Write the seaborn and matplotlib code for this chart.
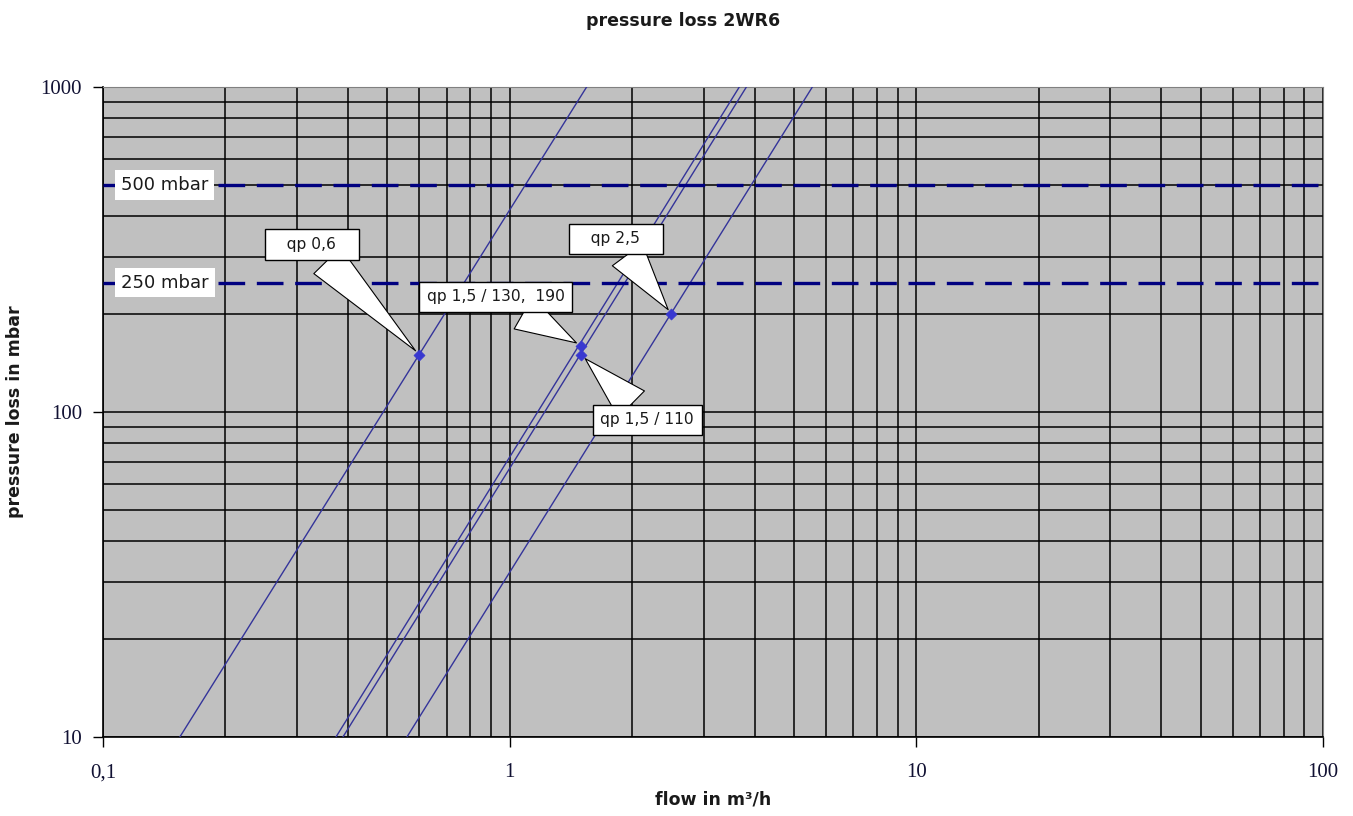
import numpy as np
import pandas as pd
import seaborn as sns
import matplotlib
matplotlib.use("Agg")
import matplotlib.pyplot as plt
from matplotlib.ticker import LogLocator, FixedLocator, FixedFormatter, NullFormatter

# characteristic lines, read where they cross the bottom (10 mbar) and top (1000 mbar) edge
line_names = ["qp 0,6", "qp 1,5 / 130, 190", "qp 1,5 / 110", "qp 2,5"]
line_flow_low = [0.1545, 0.374, 0.389, 0.559]
line_flow_high = [1.546, 3.67, 3.82, 5.55]
line_press = [10, 1000]

# nominal points
point_flow = [0.6, 1.5, 1.5, 2.5]
point_press = [150, 160, 150, 200]

# callout labels: text, anchor point index, box centre (flow, pressure)
callout_text = ["qp 0,6", "qp 1,5 / 130,  190", "qp 1,5 / 110", "qp 2,5"]
callout_point = [0, 1, 2, 3]
callout_flow = [0.326, 0.924, 2.18, 1.822]
callout_press = [327, 226, 94.5, 341]
callout_hpad = ["   ", "", "", "   "]

limit_press = [500, 250]
limit_text = ["500 mbar", "250 mbar"]

x_ticks = [0.1, 1, 10, 100]
x_ticklabels = ["0,1", "1", "10", "100"]
y_ticks = [10, 100, 1000]
y_ticklabels = ["10", "100", "1000"]

sns.set_style("white")
plt.rcParams["font.family"] = ["DejaVu Sans"]

fig = plt.figure(figsize=(13.53, 8.16), dpi=100)
ax = fig.add_axes([103 / 1353, 1 - 737 / 816, 1220 / 1353, 650 / 816])
ax.set_facecolor("#c0c0c0")

line_color = "#34349a"
for i, name in enumerate(line_names):
    df = pd.DataFrame({"flow": [line_flow_low[i], line_flow_high[i]], "press": line_press})
    sns.lineplot(data=df, x="flow", y="press", ax=ax, color=line_color, lw=1, zorder=3)

for p, t in zip(limit_press, limit_text):
    ax.axhline(p, color="#000080", lw=2.4, dashes=(8, 3.5), zorder=3)
    ax.text(0.142, p, t, ha="center", va="center", fontsize=13, color="#1a1a1a",
            bbox=dict(boxstyle="square,pad=0.32", fc="white", ec="none"), zorder=5)

pts = pd.DataFrame({"flow": point_flow, "press": point_press})
sns.scatterplot(data=pts, x="flow", y="press", ax=ax, marker="D", s=32,
                color="#3838d0", edgecolor="#3838d0", zorder=4)

for t, pi, cx, cy, hp in zip(callout_text, callout_point, callout_flow, callout_press, callout_hpad):
    ax.annotate(hp + t + hp, xy=(point_flow[pi], point_press[pi]), xytext=(cx, cy),
                ha="center", va="center", fontsize=11.2, color="#1a1a1a", zorder=6,
                bbox=dict(boxstyle="square,pad=0.5", fc="white", ec="black", lw=1),
                arrowprops=dict(arrowstyle="wedge,tail_width=2.4,shrink_factor=0.5",
                                fc="white", ec="black", lw=0.8, shrinkA=0, shrinkB=4))

ax.set_xscale("log")
ax.set_yscale("log")
ax.set_xlim(0.1, 100)
ax.set_ylim(10, 1000)

ax.xaxis.set_major_locator(FixedLocator(x_ticks))
ax.xaxis.set_major_formatter(FixedFormatter(x_ticklabels))
ax.yaxis.set_major_locator(FixedLocator(y_ticks))
ax.yaxis.set_major_formatter(FixedFormatter(y_ticklabels))
ax.xaxis.set_minor_locator(LogLocator(base=10, subs=np.arange(2, 10)))
ax.yaxis.set_minor_locator(LogLocator(base=10, subs=np.arange(2, 10)))
ax.xaxis.set_minor_formatter(NullFormatter())
ax.yaxis.set_minor_formatter(NullFormatter())

ax.grid(which="both", color="black", lw=1.1, zorder=1)
ax.set_axisbelow(True)
ax.tick_params(which="minor", length=0)
ax.tick_params(which="major", bottom=True, left=True, length=7, width=1,
               direction="out", color="black", labelcolor="#111133")
for lab in ax.get_xticklabels() + ax.get_yticklabels():
    lab.set_family("Liberation Serif")
    lab.set_fontsize(15)
ax.tick_params(axis="x", pad=12)
ax.tick_params(axis="y", pad=8)

for s in ["top", "right"]:
    ax.spines[s].set_color("#808080")
for s in ["left", "bottom"]:
    ax.spines[s].set_color("black")
    ax.spines[s].set_linewidth(1.2)

ax.set_xlabel("flow in m³/h", fontsize=12.5, fontweight="bold", color="#1a1a1a", labelpad=6)
ax.set_ylabel("pressure loss in mbar", fontsize=12.5, fontweight="bold", color="#1a1a1a", labelpad=12)
fig.suptitle("pressure loss 2WR6", x=0.505, y=0.985, fontsize=12.5, fontweight="bold", color="#1a1a1a")

fig.savefig("out.png", dpi=100)
